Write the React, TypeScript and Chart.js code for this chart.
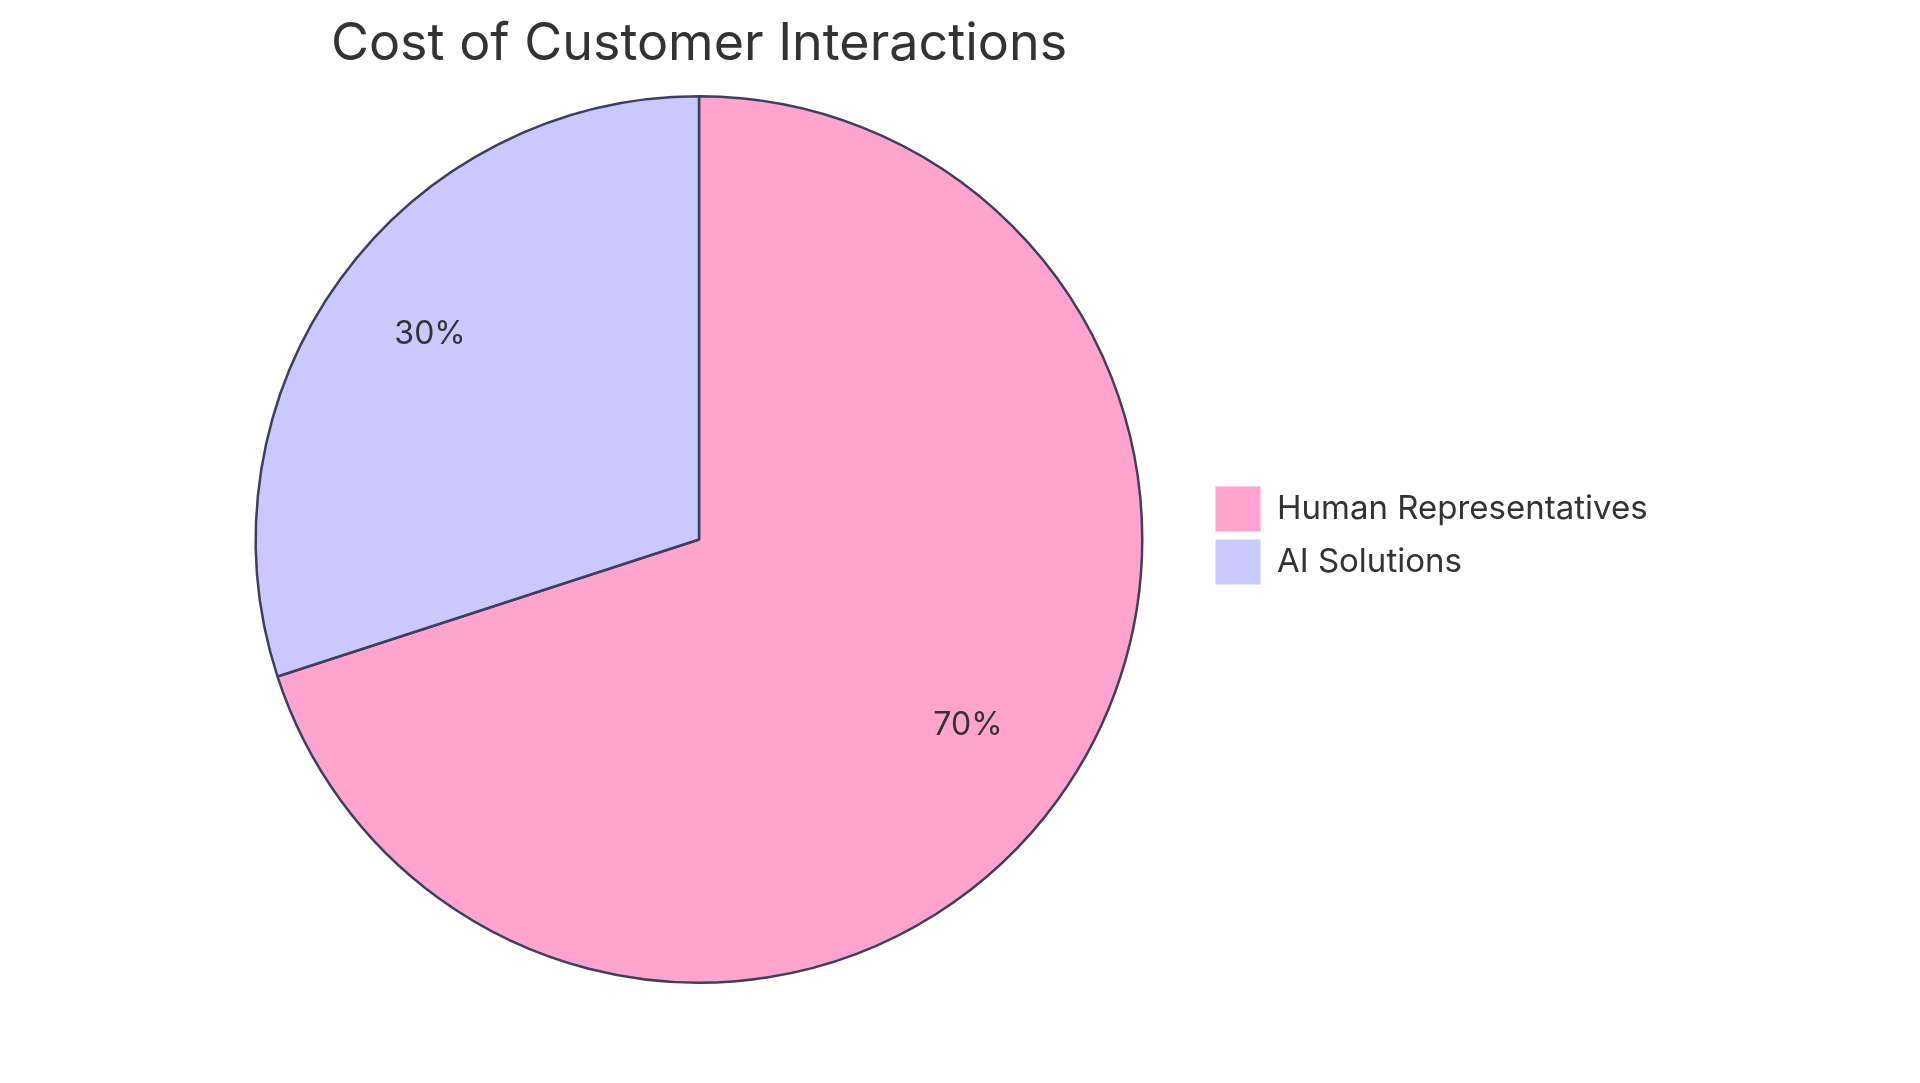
import { useEffect, useRef } from 'react';
import { Chart, registerables } from 'chart.js';

Chart.register(...registerables);

// данные диаграммы
const categories = ['Human Representatives', 'AI Solutions'];
const shares = [70, 30];
const sliceColors = ['#FFA3CF', '#C9C9FF'];

const FONT = "Inter, 'Noto Sans', sans-serif";
const TEXT_COLOR = '#333333';
const BORDER_COLOR = '#3C405E';
const LEGEND_FONT_SIZE = 33;
const LABEL_FONT_SIZE = 32;

// подписи процентов внутри секторов (базовая линия текста на 3/4 радиуса)
const sliceLabels = {
  id: 'sliceLabels',
  afterDatasetsDraw(chart: any) {
    const { ctx } = chart;
    const meta = chart.getDatasetMeta(0);
    const values = chart.data.datasets[0].data as number[];
    const total = values.reduce((a, b) => a + b, 0);
    ctx.save();
    ctx.font = `${LABEL_FONT_SIZE}px ${FONT}`;
    ctx.fillStyle = TEXT_COLOR;
    ctx.textAlign = 'center';
    ctx.textBaseline = 'alphabetic';
    meta.data.forEach((arc: any, i: number) => {
      const { x, y, startAngle, endAngle, outerRadius } = arc.getProps(
        ['x', 'y', 'startAngle', 'endAngle', 'outerRadius'],
        true
      );
      const mid = (startAngle + endAngle) / 2;
      const r = outerRadius * 0.75;
      ctx.fillText(`${Math.round((values[i] / total) * 100)}%`, x + Math.cos(mid) * r, y + Math.sin(mid) * r);
    });
    ctx.restore();
  },
};

// легенда чуть выше центра круга
const legendNudge = {
  id: 'legendNudge',
  afterLayout(chart: any) {
    if (chart.legend) {
      chart.legend.top -= 4;
      chart.legend.bottom -= 4;
    }
  },
};

const App = () => {
  const chartRef = useRef<HTMLCanvasElement>(null);
  const chartInstance = useRef<Chart | null>(null);

  useEffect(() => {
    document.body.style.margin = '0';
    if (!chartRef.current) return;
    const ctx = chartRef.current.getContext('2d');
    if (!ctx) return;

    // ширина легенды, чтобы поставить её у правого края секторов
    ctx.font = `${LEGEND_FONT_SIZE}px ${FONT}`;
    const textW = Math.max(...categories.map((c) => ctx.measureText(c).width));
    const legendLeft = 1207.5;
    const legendW = 8 + 45 + LEGEND_FONT_SIZE / 2 + textW + 10;
    const padRight = 1920 - legendLeft - legendW;
    const padLeft = 2 * 699 - legendLeft;

    chartInstance.current = new Chart(ctx, {
      type: 'pie',
      data: {
        labels: categories,
        datasets: [
          {
            data: shares,
            backgroundColor: sliceColors,
            borderColor: BORDER_COLOR,
            borderWidth: 2.5,
          },
        ],
      },
      options: {
        responsive: false,
        animation: false,
        events: [],
        layout: { padding: { left: padLeft, right: padRight, top: 0, bottom: 99 } },
        plugins: {
          title: {
            display: true,
            text: 'Cost of Customer Interactions',
            fullSize: false,
            color: TEXT_COLOR,
            font: { family: FONT, size: 52, weight: 'normal' },
            padding: { top: 13, bottom: 19.6 },
          },
          legend: {
            position: 'right',
            fullSize: false,
            align: 'center',
            labels: {
              boxWidth: 45,
              boxHeight: 45,
              padding: 8,
              color: TEXT_COLOR,
              font: { family: FONT, size: LEGEND_FONT_SIZE },
              generateLabels: (chart: any) =>
                Chart.overrides.pie.plugins.legend.labels
                  .generateLabels(chart)
                  .map((item: any) => ({ ...item, lineWidth: 0, strokeStyle: item.fillStyle })),
            },
          },
          tooltip: { enabled: false },
        },
      },
      plugins: [sliceLabels, legendNudge],
    });

    return () => {
      if (chartInstance.current) {
        chartInstance.current.destroy();
        chartInstance.current = null;
      }
    };
  }, []);

  return (
    <div style={{ width: 1920, height: 1083, background: '#ffffff' }}>
      <canvas ref={chartRef} width={1920} height={1083} />
    </div>
  );
};

export default App;
